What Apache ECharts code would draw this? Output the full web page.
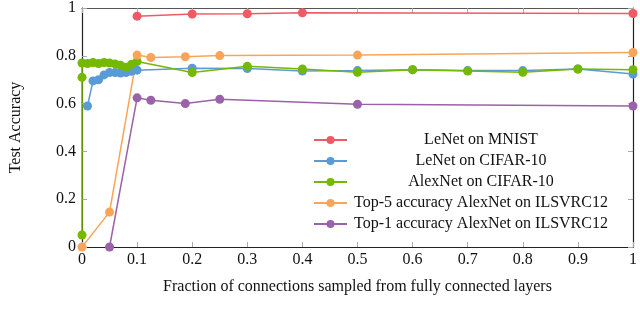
<!DOCTYPE html>
<html><head><meta charset="utf-8">
<script src="https://cdn.jsdelivr.net/npm/echarts@6/dist/echarts.min.js"></script>
<style>html,body{margin:0;padding:0;background:#fff}#c{width:640px;height:321px}</style>
</head><body><div id="c"></div>
<script>
const seriesNames = ['LeNet on MNIST','LeNet on CIFAR-10','AlexNet on CIFAR-10','Top-5 accuracy AlexNet on ILSVRC12','Top-1 accuracy AlexNet on ILSVRC12'];
const colors = ['#f05a64','#5b9bd5','#74b800','#f8a55a','#9a62a8'];

const mnistX = [0.1,0.2,0.3,0.4,1.0];
const mnistY = [0.966,0.975,0.976,0.98,0.977];

const lenetCifarX = [0.01,0.02,0.03,0.04,0.05,0.06,0.07,0.08,0.09,0.1,0.2,0.3,0.4,0.5,0.6,0.7,0.8,0.9,1.0];
const lenetCifarY = [0.59,0.695,0.7,0.72,0.73,0.73,0.728,0.73,0.735,0.74,0.748,0.747,0.736,0.738,0.742,0.738,0.738,0.745,0.724];

const alexCifarX = [0,0,0,0.01,0.02,0.03,0.04,0.05,0.06,0.07,0.08,0.09,0.1,0.2,0.3,0.4,0.5,0.6,0.7,0.8,0.9,1.0];
const alexCifarY = [0.05,0.71,0.77,0.768,0.772,0.768,0.772,0.77,0.766,0.76,0.752,0.765,0.776,0.73,0.756,0.745,0.731,0.742,0.736,0.731,0.745,0.742];

const top5X = [0,0.05,0.1,0.125,0.1875,0.25,0.5,1.0];
const top5Y = [0,0.146,0.803,0.793,0.796,0.801,0.803,0.814];

const top1X = [0.05,0.1,0.125,0.1875,0.25,0.5,1.0];
const top1Y = [0,0.624,0.614,0.6,0.618,0.597,0.59];

const xTicks = [0,0.1,0.2,0.3,0.4,0.5,0.6,0.7,0.8,0.9,1];
const yTicks = [0,0.2,0.4,0.6,0.8,1];

const allX = [mnistX, lenetCifarX, alexCifarX, top5X, top1X];
const allY = [mnistY, lenetCifarY, alexCifarY, top5Y, top1Y];

const font = 'Liberation Serif';
const fs = 16;
const chart = echarts.init(document.getElementById('c'));
const fmt = v => String(+v.toFixed(1));

const series = seriesNames.map((n, i) => ({
  name: n, type: 'line', xAxisIndex: 0, yAxisIndex: 0,
  data: allX[i].map((x, j) => [x, allY[i][j]]),
  symbol: 'circle', symbolSize: 9, showSymbol: true,
  itemStyle: {color: colors[i]}, lineStyle: {color: colors[i], width: 1.5},
  clip: false, animation: false
}));

const tickStyle = {show: true, inside: true, length: 5, lineStyle: {color: '#aaa'}};

chart.setOption({
  animation: false,
  grid: {left: 80, right: 4, top: 6, bottom: 74},
  legend: {
    data: seriesNames, orient: 'vertical', left: 313, top: 132, padding: 0,
    itemWidth: 33, itemHeight: 10, itemGap: 5,
    formatter: n => '{c|' + n + '}',
    textStyle: {fontFamily: font, fontSize: fs, color: '#111',
      rich: {c: {width: 258, align: 'center', fontFamily: font, fontSize: fs, color: '#111'}}}
  },
  xAxis: [{
    type: 'value', min: 0, max: 1, interval: 0.1,
    name: 'Fraction of connections sampled from fully connected layers',
    nameLocation: 'middle', nameGap: 32,
    nameTextStyle: {fontFamily: font, fontSize: fs, color: '#111'},
    axisLine: {show: true, onZero: false, lineStyle: {color: '#222', width: 1.2}},
    axisTick: tickStyle,
    axisLabel: {fontFamily: font, fontSize: fs, color: '#111', margin: 5, formatter: fmt},
    splitLine: {show: false}
  }, {
    type: 'value', min: 0, max: 1, interval: 0.1, position: 'top',
    axisLine: {show: true, onZero: false, lineStyle: {color: '#555', width: 1}},
    axisTick: tickStyle,
    axisLabel: {show: false}, splitLine: {show: false}
  }],
  yAxis: [{
    type: 'value', min: 0, max: 1, interval: 0.2,
    name: 'Test Accuracy', nameLocation: 'middle', nameGap: 58, nameRotate: 90,
    nameTextStyle: {fontFamily: font, fontSize: fs, color: '#111'},
    axisLine: {show: true, onZero: false, lineStyle: {color: '#222', width: 1.2}},
    axisTick: tickStyle,
    axisLabel: {fontFamily: font, fontSize: fs, color: '#111', margin: 6, formatter: fmt},
    splitLine: {show: false}
  }, {
    type: 'value', min: 0, max: 1, interval: 0.2, position: 'right',
    axisLine: {show: true, onZero: false, lineStyle: {color: '#222', width: 1.2}},
    axisTick: tickStyle,
    axisLabel: {show: false}, splitLine: {show: false}
  }],
  series: series
});
</script></body></html>
